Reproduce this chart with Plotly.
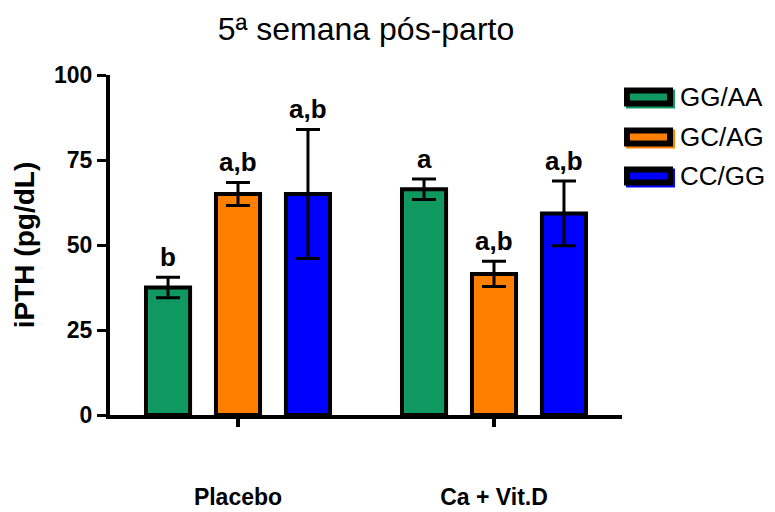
import plotly.graph_objects as go

# ---- data ----
categories = ["Placebo", "Ca + Vit.D"]
series_names = ["GG/AA", "GC/AG", "CC/GG"]
gg_aa_mean = [37.5, 66.4]
gg_aa_err = [3.0, 3.0]
gc_ag_mean = [65.0, 41.5]
gc_ag_err = [3.4, 3.7]
cc_gg_mean = [65.0, 59.3]
cc_gg_err = [19.0, 9.5]
gg_aa_letters = ["b", "a"]
gc_ag_letters = ["a,b", "a,b"]
cc_gg_letters = ["a,b", "a,b"]
y_ticks = [0, 25, 50, 75, 100]

colors = ["#0F9960", "#FF8000", "#0000FF"]
means = [gg_aa_mean, gc_ag_mean, cc_gg_mean]
errs = [gg_aa_err, gc_ag_err, cc_gg_err]
letters = [gg_aa_letters, gc_ag_letters, cc_gg_letters]

FONT = "Arial, Liberation Sans, sans-serif"
W, H = 775, 512
L, R, T, B = 110, 153, 75, 97
PW = W - L - R
PH = H - T - B
SLOT_PX = 70  # pixel distance between bars of a group

fig = go.Figure()
for name, col, m, e in zip(series_names, colors, means, errs):
    fig.add_trace(go.Bar(
        name=name, x=categories, y=m,
        marker=dict(color=col, line=dict(color="black", width=4)),
        error_y=dict(type="data", array=e, visible=True, color="black",
                     thickness=3, width=12),
        showlegend=False,
    ))

annotations = []
for i, (m, e, lt) in enumerate(zip(means, errs, letters)):
    for c, mv, ev, txt in zip(categories, m, e, lt):
        annotations.append(dict(
            x=c, y=mv + ev, xref="x", yref="y", text=f"<b>{txt}</b>",
            showarrow=False, yanchor="bottom", xshift=(i - 1) * SLOT_PX, yshift=3,
            font=dict(family=FONT, size=26, color="black"),
        ))

# custom legend (wide boxes like the original)
def px_x(p):
    return (p - L) / PW

def px_y(p):
    return (H - B - p) / PH

shapes = []
leg_x0, leg_x1 = 627, 670
leg_centers = [97, 137, 176]
for name, col, cy in zip(series_names, colors, leg_centers):
    shapes.append(dict(type="rect", xref="paper", yref="paper",
                       x0=px_x(leg_x0 + 2), x1=px_x(leg_x1 + 2),
                       y0=px_y(cy - 6.5 + 2), y1=px_y(cy + 6.5 + 2),
                       fillcolor=col, line=dict(color=col, width=6), layer="above"))
    shapes.append(dict(type="rect", xref="paper", yref="paper",
                       x0=px_x(leg_x0), x1=px_x(leg_x1),
                       y0=px_y(cy - 6.5), y1=px_y(cy + 6.5),
                       fillcolor=col, line=dict(color="black", width=6), layer="above"))
    annotations.append(dict(
        x=px_x(678), y=px_y(cy), xref="paper", yref="paper", text=name,
        showarrow=False, xanchor="left", yanchor="middle",
        font=dict(family=FONT, size=26, color="black"),
    ))

fig.update_layout(
    template="none",
    width=W, height=H,
    margin=dict(l=L, r=R, t=T, b=B, autoexpand=False),
    paper_bgcolor="white", plot_bgcolor="white",
    barmode="group", bargap=0.18, bargroupgap=0.37,
    title=dict(text="5ª semana pós-parto", x=0.5, xref="paper",
               y=1 - 29 / H, yref="container", yanchor="middle", xanchor="center",
               font=dict(family=FONT, size=32, color="black")),
    xaxis=dict(range=[-0.5, 1.5], showline=True, linecolor="black", linewidth=4,
               ticks="outside", ticklen=8, tickwidth=4, tickcolor="black",
               showgrid=False, zeroline=False, ticklabelstandoff=50, automargin=False,
               tickfont=dict(family=FONT, size=23, color="black"),
               tickvals=categories, ticktext=[f"<b>{c}</b>" for c in categories]),
    yaxis=dict(range=[0, 100], showline=True, linecolor="black", linewidth=4,
               ticks="outside", ticklen=9, tickwidth=3, tickcolor="black",
               tickvals=y_ticks, ticktext=[f"<b>{v}</b>" for v in y_ticks],
               showgrid=False, zeroline=False, automargin=False,
               tickfont=dict(family=FONT, size=23, color="black"),
               title=dict(text="<b>iPTH (pg/dL)</b>", standoff=12,
                          font=dict(family=FONT, size=28, color="black"))),
    annotations=annotations,
    shapes=shapes,
)

fig.write_html("out.html", config={"displayModeBar": False},
               post_script="document.body.style.margin='0';")
